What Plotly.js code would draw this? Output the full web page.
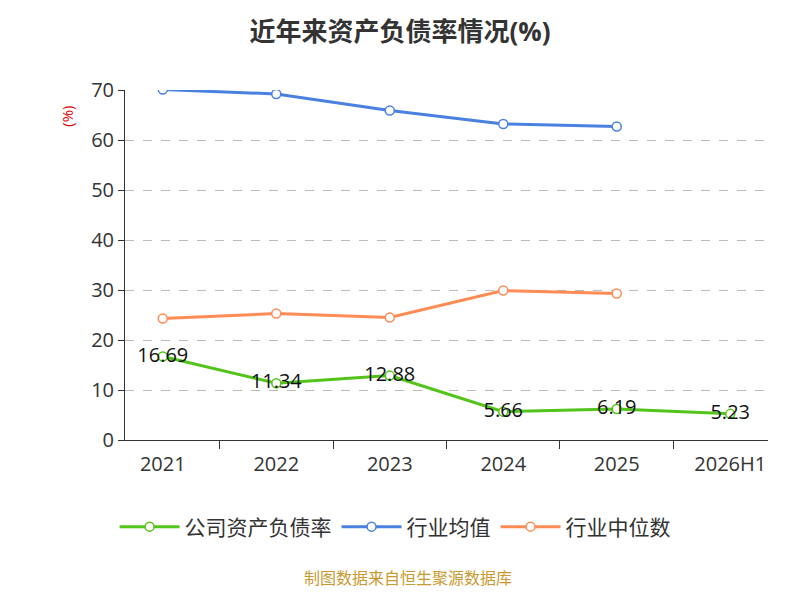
<!DOCTYPE html>
<html><head><meta charset="utf-8">
<script src="https://cdn.plot.ly/plotly-3.0.1.min.js"></script>
<style>body{margin:0}#chart{width:800px;height:600px}</style>
</head><body><div id="chart"></div>
<script>
const years = ["2021", "2022", "2023", "2024", "2025", "2026H1"];
const company = [16.69, 11.34, 12.88, 5.66, 6.19, 5.23];
const industryAvg = [70.1, 69.2, 65.9, 63.2, 62.7];
const industryMedian = [24.3, 25.3, 24.5, 29.9, 29.3];

const font = "Open Sans, Noto Sans CJK SC, sans-serif";

const traces = [
  {
    x: years, y: company, name: "公司资产负债率", type: "scatter", mode: "lines+markers+text",
    text: company.map(v => v.toFixed(2)), textposition: "middle center",
    textfont: { size: 20, color: "#111" },
    line: { color: "#52c41a", width: 3 },
    marker: { size: 9, color: "#fff", line: { color: "#52c41a", width: 1.5 } }
  },
  {
    x: years.slice(0, 5), y: industryAvg, name: "行业均值", type: "scatter", mode: "lines+markers",
    line: { color: "#4a80e0", width: 3 },
    marker: { size: 9, color: "#fff", line: { color: "#4a80e0", width: 1.5 } }
  },
  {
    x: years.slice(0, 5), y: industryMedian, name: "行业中位数", type: "scatter", mode: "lines+markers",
    line: { color: "#ff8c55", width: 3 },
    marker: { size: 9, color: "#fff", line: { color: "#ff8c55", width: 1.5 } }
  }
];

const layout = {
  width: 800, height: 600,
  margin: { l: 125, r: 32, t: 90, b: 160 },
  font: { family: font, color: "#333" },
  title: { text: "<b>近年来资产负债率情况(%)</b>", x: 0.5, y: 0.962, font: { size: 26, color: "#333" } },
  showlegend: true,
  legend: { orientation: "h", x: 0.42, xanchor: "center", y: -0.19, font: { size: 21, color: "#333" }, itemwidth: 60 },
  xaxis: {
    type: "category", showline: true, linecolor: "#333", linewidth: 1,
    ticks: "outside", tickson: "boundaries", ticklen: 8, tickcolor: "#333",
    tickfont: { size: 20, color: "#333" }, showgrid: false, ticklabelstandoff: 6
  },
  yaxis: {
    range: [0, 70], dtick: 10, showline: true, linecolor: "#333",
    ticks: "outside", ticklen: 6, tickcolor: "#333",
    tickfont: { size: 20, color: "#333" },
    gridcolor: "#bbb", griddash: "dash", zeroline: false
  },
  annotations: [
    { text: "(%)", xref: "paper", yref: "paper", x: -0.11, y: 0.96, showarrow: false,
      textangle: -90, font: { size: 15, color: "#e00000" } },
    { text: "制图数据来自恒生聚源数据库", xref: "paper", yref: "paper", x: 0.44, xanchor: "center",
      y: -0.43, showarrow: false, font: { size: 16, color: "#c89a30" } }
  ],
  paper_bgcolor: "#fff", plot_bgcolor: "#fff"
};

Plotly.newPlot("chart", traces, layout, { displayModeBar: false });
</script></body></html>
